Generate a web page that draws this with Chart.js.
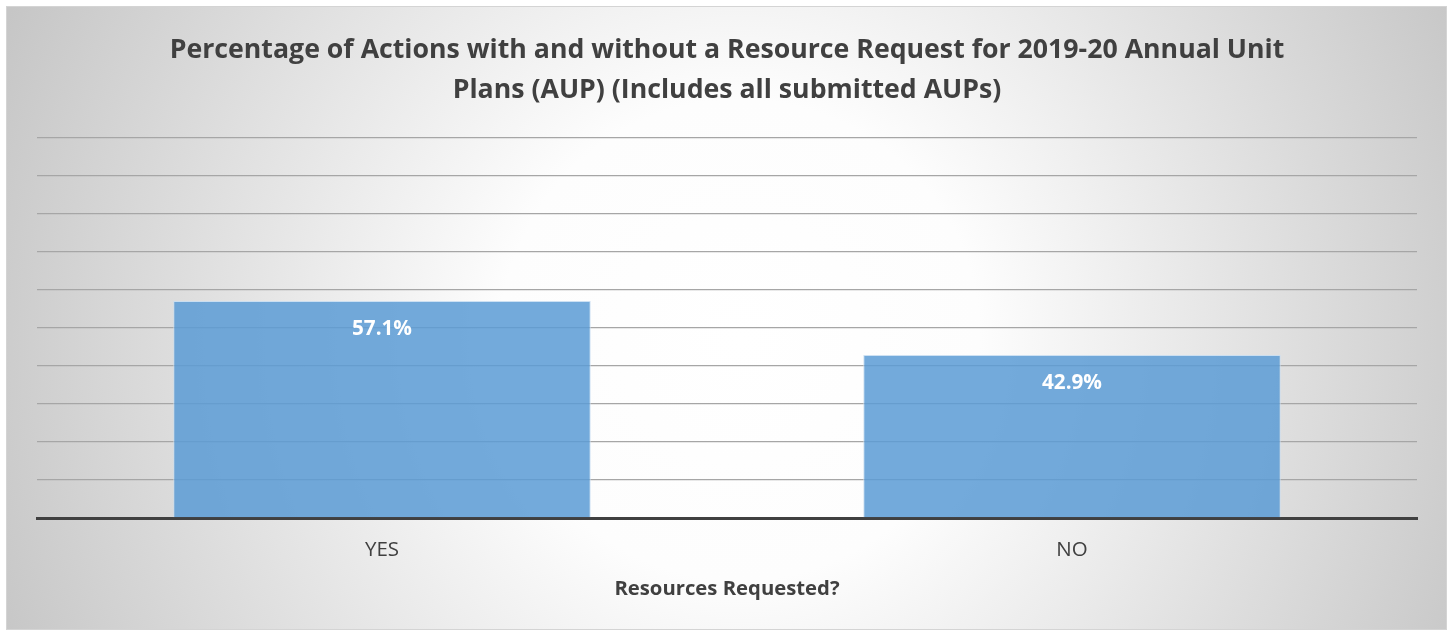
<!DOCTYPE html>
<html>
<head>
<meta charset="utf-8">
<script src="https://cdn.jsdelivr.net/npm/chart.js@4.4.1/dist/chart.umd.min.js"></script>
<style>
  html, body { margin: 0; padding: 0; background: #ffffff; }
  #wrap { position: relative; width: 1453px; height: 630px; }
</style>
</head>
<body>
<div id="wrap"><canvas id="c" width="1453" height="630"></canvas></div>
<script>
const categories = ['YES', 'NO'];
const percentValues = [57.1, 42.9];
const yTicks = [0, 10, 20, 30, 40, 50, 60, 70, 80, 90, 100];
const titleLines = ['Percentage of Actions with and without a Resource Request for 2019-20 Annual Unit', 'Plans (AUP) (Includes all submitted AUPs)'];
const xAxisTitle = 'Resources Requested?';

const FONT = '"Open Sans", Lato, "Liberation Sans", sans-serif';

const bgPlugin = {
  id: 'bg',
  beforeDraw(chart) {
    const ctx = chart.ctx;
    const x0 = 6, y0 = 6, x1 = 1447, y1 = 630;
    ctx.save();
    const g = ctx.createRadialGradient(740, 340, 0, 740, 340, 800);
    g.addColorStop(0, '#ffffff');
    g.addColorStop(0.3, '#fdfdfd');
    g.addColorStop(1, '#c6c6c6');
    ctx.fillStyle = g;
    ctx.fillRect(x0, y0, x1 - x0, y1 - y0);
    ctx.strokeStyle = '#d4d4d4';
    ctx.lineWidth = 1;
    ctx.strokeRect(x0 + 0.5, y0 + 0.5, x1 - x0 - 1, y1 - y0 - 1);
    ctx.restore();
  }
};

const labelPlugin = {
  id: 'vlabels',
  afterDatasetsDraw(chart) {
    const ctx = chart.ctx;
    const meta = chart.getDatasetMeta(0);
    ctx.save();
    ctx.fillStyle = '#ffffff';
    ctx.font = 'bold 20.7px ' + FONT;
    ctx.textAlign = 'center';
    ctx.textBaseline = 'middle';
    meta.data.forEach((bar, i) => {
      const v = chart.data.datasets[0].data[i];
      ctx.fillText(v.toFixed(1) + '%', bar.x, bar.y + 28);
    });
    ctx.restore();
  }
};

new Chart(document.getElementById('c'), {
  type: 'bar',
  data: {
    labels: categories,
    datasets: [{
      data: percentValues,
      backgroundColor: 'rgba(91,155,213,0.85)',
      borderColor: 'rgba(200,222,242,0.9)',
      borderWidth: 1,
      categoryPercentage: 1,
      barPercentage: 0.605
    }]
  },
  options: {
    responsive: false,
    animation: false,
    layout: { padding: { left: 37, right: 36, top: 30, bottom: 0 } },
    plugins: {
      legend: { display: false },
      tooltip: { enabled: false },
      title: {
        display: true,
        text: titleLines,
        color: '#404040',
        font: { family: FONT, size: 26.7, weight: 'bold', lineHeight: 1.5 },
        padding: { top: 0, bottom: 28 }
      }
    },
    scales: {
      x: {
        afterFit(scale) { scale.height = 112; },
        grid: { display: false, drawTicks: false },
        border: { display: true, color: '#404040', width: 3 },
        ticks: { color: '#404040', font: { family: FONT, size: 20.5 }, padding: 20 },
        title: {
          display: true,
          text: xAxisTitle,
          color: '#404040',
          font: { family: FONT, size: 20.3, weight: 'bold' },
          padding: { top: 0, bottom: 28.5 }
        }
      },
      y: {
        min: 0,
        max: 100,
        afterBuildTicks(scale) { scale.ticks = yTicks.map(v => ({ value: v })); },
        afterFit(scale) { scale.width = 0; },
        ticks: { display: false },
        grid: { color: '#a6a6a6', lineWidth: 1.3, drawTicks: false },
        border: { display: false }
      }
    }
  },
  plugins: [bgPlugin, labelPlugin]
});
</script>
</body>
</html>
